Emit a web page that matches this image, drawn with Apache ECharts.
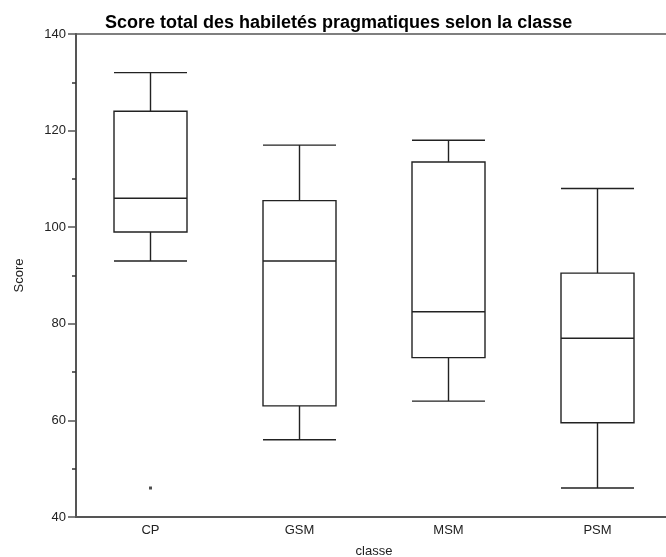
<!doctype html>
<html lang="fr">
<head>
    <meta charset="UTF-8">
    <script src="https://cdn.jsdelivr.net/npm/echarts@6/dist/echarts.min.js"></script>
    <title>Score total des habiletés pragmatiques</title>
    <style>
        html, body { margin: 0; padding: 0; background: #fff; }
    </style>
</head>
<body>
<div id="main" style="width: 666px;height:557px;"></div>
<script>
    // classes
    var classes = ['CP', 'GSM', 'MSM', 'PSM'];
    // [min, Q1, mediane, Q3, max]
    var cpBox = [93, 99, 106, 124, 132];
    var gsmBox = [56, 63, 93, 105.5, 117];
    var msmBox = [64, 73, 82.5, 113.5, 118];
    var psmBox = [46, 59.5, 77, 90.5, 108];
    // valeurs extremes
    var outliers = [['CP', 46]];
    var yTicks = [40, 60, 80, 100, 120, 140];

    var myChart = echarts.init(document.getElementById('main'));
    var txtFont = 'Liberation Sans, Arial, sans-serif';

    var option = {
        animation: false,
        title: {
            text: 'Score total des habiletés pragmatiques selon la classe',
            left: 100,
            top: 9,
            textStyle: {
                fontFamily: txtFont,
                fontSize: 18,
                fontWeight: 'bold',
                color: '#000'
            }
        },
        grid: {
            left: 76,
            top: 34,
            bottom: 40,
            width: 596,
            outerBoundsMode: 'none',
            show: true,
            borderColor: '#555',
            borderWidth: 1.5
        },
        xAxis: {
            type: 'category',
            data: classes,
            name: 'classe',
            nameLocation: 'middle',
            nameGap: 28,
            nameTextStyle: { fontFamily: txtFont, fontSize: 13, color: '#222' },
            axisLine: { lineStyle: { color: '#555', width: 2 } },
            axisTick: { show: false },
            axisLabel: { fontFamily: txtFont, fontSize: 13, color: '#222', margin: 7 },
            splitLine: { show: false }
        },
        yAxis: {
            type: 'value',
            min: yTicks[0],
            max: yTicks[yTicks.length - 1],
            interval: 20,
            name: 'Score',
            nameLocation: 'middle',
            nameGap: 50,
            nameTextStyle: { fontFamily: txtFont, fontSize: 13, color: '#222' },
            axisLine: { show: true, lineStyle: { color: '#555', width: 2 } },
            axisTick: { show: true, length: 8, lineStyle: { color: '#555', width: 1.5 } },
            minorTick: { show: true, splitNumber: 2, length: 4, lineStyle: { color: '#333', width: 1.5 } },
            axisLabel: { fontFamily: txtFont, fontSize: 13, color: '#222', margin: 10 },
            splitLine: { show: false }
        },
        series: [
            {
                type: 'boxplot',
                data: [cpBox, gsmBox, msmBox, psmBox],
                boxWidth: [73, 73],
                itemStyle: {
                    color: '#fff',
                    borderColor: '#222',
                    borderWidth: 1.4
                }
            },
            {
                type: 'scatter',
                data: outliers,
                symbol: 'rect',
                symbolSize: 3,
                itemStyle: { color: '#222' }
            }
        ]
    };
    myChart.setOption(option);
</script>
</body>
</html>
